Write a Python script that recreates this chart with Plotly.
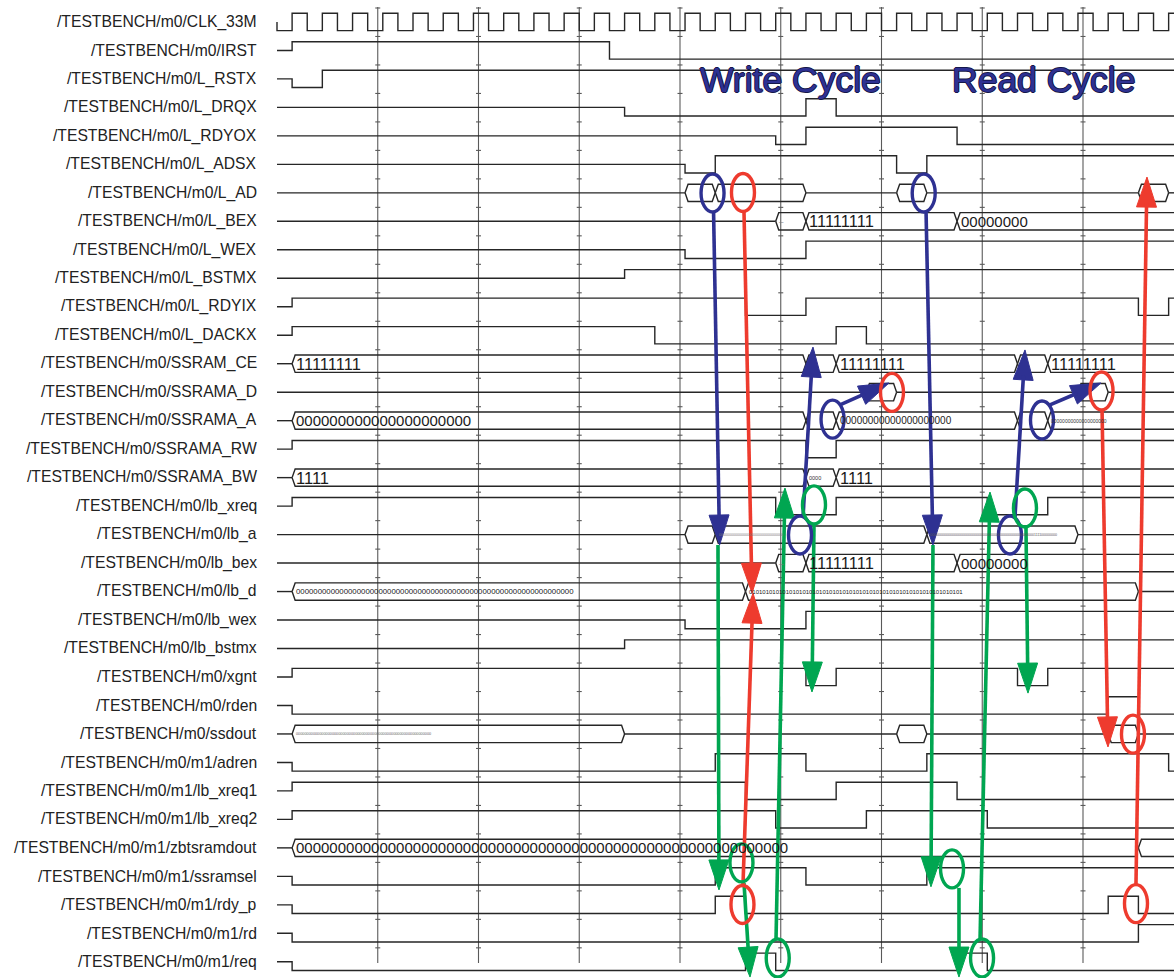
import plotly.graph_objects as go

# ------------------------------------------------------------------ data
ROW_NAMES = [
    "/TESTBENCH/m0/CLK_33M", "/TESTBENCH/m0/IRST", "/TESTBENCH/m0/L_RSTX",
    "/TESTBENCH/m0/L_DRQX", "/TESTBENCH/m0/L_RDYOX", "/TESTBENCH/m0/L_ADSX",
    "/TESTBENCH/m0/L_AD", "/TESTBENCH/m0/L_BEX", "/TESTBENCH/m0/L_WEX",
    "/TESTBENCH/m0/L_BSTMX", "/TESTBENCH/m0/L_RDYIX", "/TESTBENCH/m0/L_DACKX",
    "/TESTBENCH/m0/SSRAM_CE", "/TESTBENCH/m0/SSRAMA_D", "/TESTBENCH/m0/SSRAMA_A",
    "/TESTBENCH/m0/SSRAMA_RW", "/TESTBENCH/m0/SSRAMA_BW", "/TESTBENCH/m0/lb_xreq",
    "/TESTBENCH/m0/lb_a", "/TESTBENCH/m0/lb_bex", "/TESTBENCH/m0/lb_d",
    "/TESTBENCH/m0/lb_wex", "/TESTBENCH/m0/lb_bstmx", "/TESTBENCH/m0/xgnt",
    "/TESTBENCH/m0/rden", "/TESTBENCH/m0/ssdout", "/TESTBENCH/m0/m1/adren",
    "/TESTBENCH/m0/m1/lb_xreq1", "/TESTBENCH/m0/m1/lb_xreq2",
    "/TESTBENCH/m0/m1/zbtsramdout", "/TESTBENCH/m0/m1/ssramsel",
    "/TESTBENCH/m0/m1/rdy_p", "/TESTBENCH/m0/m1/rd", "/TESTBENCH/m0/m1/req",
]

# time in ns; 'Z' = undriven (mid level); 1 / 0 = logic levels; strings = bus values
CLK_RISE = [15, 45, 75, 105, 135, 165, 195, 225, 255, 285, 315, 345, 375, 405, 435,
            465, 495, 525, 555, 585, 615, 645, 675, 705, 735, 765, 795, 825, 855, 885]
CLK_FALL = [30, 60, 90, 120, 150, 180, 210, 240, 270, 300, 330, 360, 390, 420, 450,
            480, 510, 540, 570, 600, 630, 660, 690, 720, 750, 780, 810, 840, 870]

IRST = [(0, 'Z'), (15, 1), (330, 0)]
L_RSTX = [(0, 'Z'), (15, 0), (45, 1)]
L_DRQX = [(0, 'Z'), (345, 0), (525, 1), (555, 0)]
L_RDYOX = [(0, 'Z'), (495, 0), (525, 1), (675, 0)]
L_ADSX = [(0, 'Z'), (405, 0), (435, 1), (615, 0), (645, 1)]
L_AD = [(0, 'Z'), (405, ''), (435, ''), (525, 'Z'), (615, ''), (645, 'Z'), (855, ''), (885, 'Z')]
L_BEX = [(0, 'Z'), (495, '–'), (525, '11111111'), (675, '00000000')]
L_WEX = [(0, 'Z'), (405, 0), (525, 1)]
L_BSTMX = [(0, 'Z'), (345, 1)]
L_RDYIX = [(0, 'Z'), (15, 1), (465, 0), (525, 1), (855, 0), (885, 1)]
L_DACKX = [(0, 'Z'), (15, 1), (375, 0), (555, 1), (585, 0)]
SSRAM_CE = [(0, 'Z'), (15, '11111111'), (525, ''), (555, '11111111'), (735, ''), (765, '11111111')]
SSRAMA_D = [(0, 'Z'), (585, ''), (615, 'Z'), (795, ''), (825, 'Z')]
SSRAMA_A = [(0, 'Z'), (15, '0' * 21), (525, ''), (555, '0' * 20), (735, ''), (765, '0' * 20)]
SSRAMA_RW = [(0, 'Z'), (15, 1), (525, 0), (555, 1)]
SSRAMA_BW = [(0, 'Z'), (15, '1111'), (525, '0000'), (555, '1111')]
LB_XREQ = [(0, 'Z'), (15, 1), (495, 0), (555, 1), (705, 0), (765, 1)]
LB_A = [(0, 'Z'), (405, ''), (435, '0' * 32), (645, '0' * 52 + '1111' + '0' * 8), (795, 'Z')]
LB_BEX = [(0, 'Z'), (495, '–'), (525, '11111111'), (675, '00000000')]
LB_D = [(0, 'Z'), (15, '0' * 64), (465, '01' * 32), (855, 'Z')]
LB_WEX = [(0, 'Z'), (405, 0), (525, 1)]
LB_BSTMX = [(0, 'Z'), (345, 1)]
XGNT = [(0, 'Z'), (15, 1), (525, 0), (555, 1), (735, 0), (765, 1)]
RDEN = [(0, 'Z'), (15, 0), (825, 1), (855, 0)]
SSDOUT = [(0, 'Z'), (15, '0' * 64), (345, 'Z'), (615, ''), (645, 'Z'), (825, ''), (855, 'Z')]
ADREN = [(0, 'Z'), (15, 0), (435, 1), (525, 0), (645, 1), (885, 0)]
LB_XREQ1 = [(0, 'Z'), (15, 1), (465, 0), (555, 1), (675, 0)]
LB_XREQ2 = [(0, 'Z'), (15, 1), (495, 0), (585, 1), (705, 0)]
ZBTSRAMDOUT = [(0, 'Z'), (15, '0' * 59), (855, '')]
SSRAMSEL = [(0, 'Z'), (15, 0), (435, 1), (525, 0), (645, 1)]
RDY_P = [(0, 'Z'), (15, 0), (435, 1), (465, 0), (825, 1), (855, 0)]
RD = [(0, 'Z'), (15, 0), (855, 1)]
REQ = [(0, 'Z'), (15, 0), (465, 1), (495, 0), (675, 1), (705, 0)]

GRID_T = [100, 200, 300, 400, 500, 600, 700, 800]

# annotation marks: ellipse centres (ns, row) and arrows (from ns,row -> tip ns,row)
BLUE_ELLIPSES = [(432.3, 6.31), (641.9, 6.31), (519.1, 18.32), (551.4, 14.25), (727.5, 18.32), (759.3, 14.28)]
RED_ELLIPSES = [(462.5, 6.29), (610.4, 13.31), (818.4, 13.26), (849.6, 25.31), (462.0, 31.29), (852.6, 31.26)]
GREEN_ELLIPSES = [(461.0, 29.83), (497.0, 33.17), (533.0, 17.26), (670.0, 30.04), (699.8, 33.17), (742.4, 17.37)]
BLUE_ARROWS = [(433.3, 6.94, 439.3, 18.67), (644.2, 6.94, 651.1, 18.67), (522.1, 17.69, 532.0, 11.72),
               (558.8, 13.75, 607.4, 12.98), (732.5, 17.69, 742.4, 11.82), (767.2, 13.75, 817.9, 12.98)]
RED_ARROWS = [(463.5, 6.94, 471.5, 20.36), (462.5, 30.61, 472.5, 20.36),
              (818.9, 13.93, 824.8, 25.76), (852.6, 30.57, 863.5, 5.75)]
GREEN_ARROWS = [(437.7, 18.67, 438.7, 30.78), (463.5, 30.54, 469.5, 33.84), (495.3, 32.54, 504.2, 16.67),
                (533.0, 17.97, 531.0, 23.83), (651.1, 18.67, 649.1, 30.67), (676.9, 30.71, 676.9, 33.84),
                (697.8, 32.54, 707.7, 16.81), (743.4, 18.04, 745.4, 23.87)]
CYCLE_LABELS = [("Write Cycle", 509.2, 2.35), ("Read Cycle", 761.3, 2.35)]

# ------------------------------------------------------------------ layout constants
W, H = 1174, 978
X0_PX, PX_PER_NS = 277.0, 1.0075
Y0_PX, PX_PER_ROW = 13.3, 28.48
T_MIN = -X0_PX / PX_PER_NS
T_END = (W - X0_PX) / PX_PER_NS
Y_MIN = -Y0_PX / PX_PER_ROW
Y_MAX = (H - Y0_PX) / PX_PER_ROW
LOW = 17.3 / PX_PER_ROW
MID = LOW / 2
BUS_EDGE = 3.0
FONT = "Liberation Sans, Arial, sans-serif"
WAVE_COLOR = "#262626"
BLUE, RED, GREEN = "#2E3192", "#EE3B2E", "#00A651"

# small bus texts: (row, start) -> (size, colour)
BUS_TEXT_STYLE = {
    (14, 555): (10, "#222"), (14, 765): (5, "#333"),
    (16, 525): (5.5, "#333"),
    (18, 435): (3.6, "#777"), (18, 645): (3.6, "#555"),
    (20, 15): (7.8, "#222"), (20, 465): (6, "#222"),
    (25, 15): (3.8, "#666"),
    (7, 495): (8, "#777"), (19, 495): (8, "#777"),
}

clk = [(0, 'Z'), (0, 0)]
for r, f in zip(CLK_RISE, CLK_FALL + [None]):
    clk.append((r, 1))
    if f is not None:
        clk.append((f, 0))

ROWS = [clk, IRST, L_RSTX, L_DRQX, L_RDYOX, L_ADSX, L_AD, L_BEX, L_WEX, L_BSTMX,
        L_RDYIX, L_DACKX, SSRAM_CE, SSRAMA_D, SSRAMA_A, SSRAMA_RW, SSRAMA_BW,
        LB_XREQ, LB_A, LB_BEX, LB_D, LB_WEX, LB_BSTMX, XGNT, RDEN, SSDOUT, ADREN,
        LB_XREQ1, LB_XREQ2, ZBTSRAMDOUT, SSRAMSEL, RDY_P, RD, REQ]


def is_bus(states):
    return any(isinstance(v, str) and v != 'Z' for _, v in states)


wx, wy = [], []
annotations = []


def add_line(xs, ys):
    wx.extend(xs + [None])
    wy.extend(ys + [None])


def level(i, v):
    return i + {1: 0.0, 0: LOW, 'Z': MID}[v]


for i, states in enumerate(ROWS):
    if not is_bus(states):
        xs, ys = [], []
        for k, (t, v) in enumerate(states):
            y = level(i, v)
            if k == 0:
                xs.append(t); ys.append(y)
            else:
                xs += [t, t]; ys += [ys[-1], y]
        xs.append(T_END); ys.append(ys[-1])
        add_line(xs, ys)
    else:
        m = i + MID
        for k, (t0, v) in enumerate(states):
            t1 = states[k + 1][0] if k + 1 < len(states) else None
            end = t1 if t1 is not None else T_END
            if v == 'Z':
                add_line([t0, end], [m, m])
                continue
            if t1 is None:
                add_line([t0, t0 + BUS_EDGE, end], [m, i, i])
                add_line([t0, t0 + BUS_EDGE, end], [m, i + LOW, i + LOW])
            else:
                add_line([t0, t0 + BUS_EDGE, t1 - BUS_EDGE, t1], [m, i, i, m])
                add_line([t0, t0 + BUS_EDGE, t1 - BUS_EDGE, t1], [m, i + LOW, i + LOW, m])
            if v:
                size, col = BUS_TEXT_STYLE.get((i, t0), (15, "#1a1a1a"))
                if set(v) == {'1'} and size == 15:
                    size = 16.5
                annotations.append(dict(x=t0 + 2.5, y=m, xref="x", yref="y", text=v,
                                        showarrow=False, xanchor="left", yanchor="middle",
                                        font=dict(family=FONT, size=size, color=col),
                                        borderpad=0))

fig = go.Figure()

# grid lines and ticks
gx, gy = [], []
for t in GRID_T:
    gx += [t, t, None]
    gy += [(7 - Y0_PX) / PX_PER_ROW, (963 - Y0_PX) / PX_PER_ROW, None]
    for i in range(len(ROWS)):
        yt = i - 5.3 / PX_PER_ROW
        gx += [t - 2.5 / PX_PER_NS, t + 2.5 / PX_PER_NS, None]
        gy += [yt, yt, None]
fig.add_trace(go.Scatter(x=gx, y=gy, mode="lines", line=dict(color="#5a5a5a", width=1.1),
                         hoverinfo="skip"))

fig.add_trace(go.Scatter(x=wx, y=wy, mode="lines", line=dict(color=WAVE_COLOR, width=1.4),
                         hoverinfo="skip"))

# labels
for i, name in enumerate(ROW_NAMES):
    annotations.append(dict(x=(258 - X0_PX) / PX_PER_NS, y=i + MID - 0.01, xref="x", yref="y",
                            text=name, showarrow=False, xanchor="right", yanchor="middle",
                            font=dict(family=FONT, size=15.7, color="#222"), borderpad=0))

# cycle captions
OUTLINE = "#15174a"
for txt, t, y in CYCLE_LABELS:
    annotations.append(dict(x=t, y=y, xref="x", yref="y", text=txt, showarrow=False,
                            xanchor="center", yanchor="middle",
                            font=dict(family=FONT, size=35.5, color=BLUE,
                                      shadow=f"1px 0 0 {OUTLINE}, -1px 0 0 {OUTLINE}, "
                                             f"0 1px 0 {OUTLINE}, 0 -1px 0 {OUTLINE}"),
                            borderpad=0))


def to_px(t, y):
    return X0_PX + t * PX_PER_NS, Y0_PX + y * PX_PER_ROW


def to_data(px, py):
    return (px - X0_PX) / PX_PER_NS, (py - Y0_PX) / PX_PER_ROW


HEAD_LEN, HEAD_W, ARROW_W = 30.0, 20.0, 3.6
shapes = []


def add_arrows(arrows, color):
    lx, ly = [], []
    for (t0, y0, t1, y1) in arrows:
        ax, ay = to_px(t0, y0)
        bx, by = to_px(t1, y1)
        dx, dy = bx - ax, by - ay
        L = (dx * dx + dy * dy) ** 0.5
        ux, uy = dx / L, dy / L
        nx, ny = -uy, ux
        cx, cy = bx - HEAD_LEN * ux, by - HEAD_LEN * uy
        s = to_data(ax, ay)
        c = to_data(cx + 4 * ux, cy + 4 * uy)
        lx += [s[0], c[0], None]
        ly += [s[1], c[1], None]
        p1 = to_data(bx, by)
        p2 = to_data(cx + nx * HEAD_W / 2, cy + ny * HEAD_W / 2)
        p3 = to_data(cx - nx * HEAD_W / 2, cy - ny * HEAD_W / 2)
        fig.add_trace(go.Scatter(x=[p1[0], p2[0], p3[0], p1[0]], y=[p1[1], p2[1], p3[1], p1[1]],
                                 mode="lines", fill="toself", fillcolor=color,
                                 line=dict(color=color, width=1), hoverinfo="skip"))
    fig.add_trace(go.Scatter(x=lx, y=ly, mode="lines", line=dict(color=color, width=ARROW_W),
                             hoverinfo="skip"))


def add_ellipses(ells, color, rx=11.5, ry=19.0):
    for t, y in ells:
        shapes.append(dict(type="circle", xref="x", yref="y",
                           x0=t - rx / PX_PER_NS, x1=t + rx / PX_PER_NS,
                           y0=y - ry / PX_PER_ROW, y1=y + ry / PX_PER_ROW,
                           line=dict(color=color, width=3.4), layer="above"))


add_arrows(GREEN_ARROWS, GREEN)
add_arrows(BLUE_ARROWS, BLUE)
add_arrows(RED_ARROWS, RED)
add_ellipses(BLUE_ELLIPSES, BLUE)
add_ellipses(RED_ELLIPSES, RED)
add_ellipses(GREEN_ELLIPSES, GREEN)

fig.update_layout(
    width=W, height=H, margin=dict(l=0, r=0, t=0, b=0),
    paper_bgcolor="white", plot_bgcolor="white", showlegend=False,
    xaxis=dict(range=[T_MIN, T_END], visible=False, fixedrange=True),
    yaxis=dict(range=[Y_MAX, Y_MIN], visible=False, fixedrange=True),
    annotations=annotations, shapes=shapes, hovermode=False,
)
fig.write_html("out.html")
